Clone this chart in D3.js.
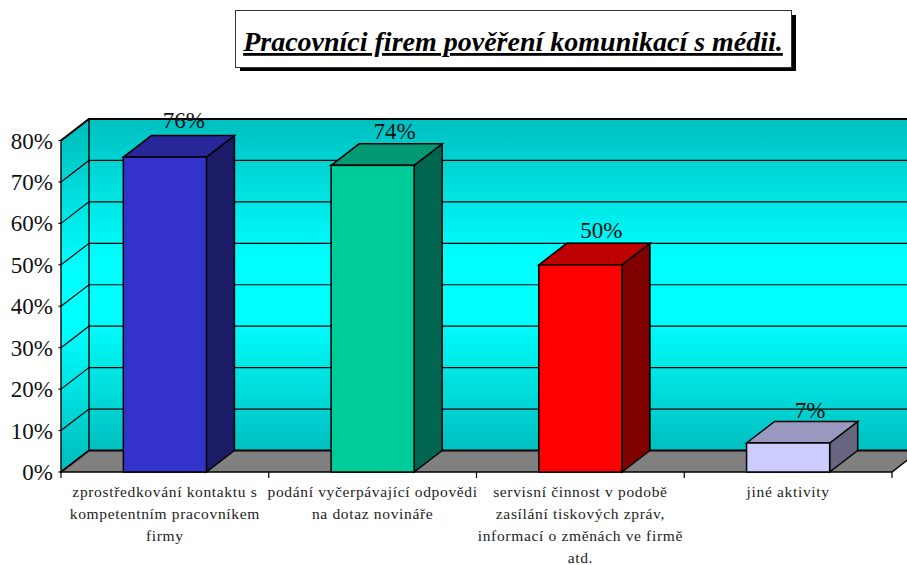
<!DOCTYPE html>
<html><head><meta charset="utf-8">
<script src="https://cdn.jsdelivr.net/npm/d3@7"></script>
<style>html,body{margin:0;padding:0;background:#fff;overflow:hidden}svg{display:block}text{font-family:"Liberation Serif",serif}</style>
</head><body><svg id="c" width="907" height="565"></svg>
<script>
const categories = [
 ["zprostředkování kontaktu s","kompetentním pracovníkem","firmy"],
 ["podání vyčerpávající odpovědi","na dotaz novináře"],
 ["servisní činnost v podobě","zasílání tiskových zpráv,","informací o změnách ve firmě","atd."],
 ["jiné aktivity"]];
const values = [76,74,50,7];
const valueLabels = ["76%","74%","50%","7%"];
const frontColors = ["#3333CC","#00CC99","#FF0000","#CCCCFF"];
const topColors = ["#272799","#009973","#BF0000","#9999BF"];
const sideColors = ["#1C1C66","#006650","#800000","#666680"];
const yTicks = [0,10,20,30,40,50,60,70,80];
const titleText = "Pracovníci firem pověření komunikací s médii.";
const labelShiftX = [19,22,21,22];
const labelShiftY = [-8,-4.5,-5.5,-3.5];

const svg = d3.select("#c");
const dx = 28, dy = -21.5;
const y = d3.scaleLinear().domain([0,80]).range([472,140.5]);
const x = d3.scaleBand().domain(d3.range(categories.length)).range([61,892]).paddingInner(0).paddingOuter(0);
const bw = x.bandwidth()*0.4;
const poly = (pts)=>pts.map(p=>p.join(",")).join(" ");

const defs = svg.append("defs");
function grad(id,y1,y2){
  const g = defs.append("linearGradient").attr("id",id).attr("gradientUnits","userSpaceOnUse")
    .attr("x1",0).attr("x2",0).attr("y1",y1).attr("y2",y2);
  [[0,"#00BFBF"],[0.42,"#00FFFF"],[0.6,"#00FFFF"],[1,"#00BFBF"]].forEach(s=>g.append("stop").attr("offset",s[0]).attr("stop-color",s[1]));
}
grad("wall",y(80)+dy,y(0)+dy);
grad("side",y(80)+dy/2,y(0)+dy/2);

const x0=x.range()[0], x1=x.range()[1];
svg.append("rect").attr("x",x0+dx).attr("y",y(80)+dy).attr("width",x1-x0).attr("height",y(0)-y(80)).attr("fill","url(#wall)");
svg.append("polygon").attr("points",poly([[x0,y(0)],[x0,y(80)],[x0+dx,y(80)+dy],[x0+dx,y(0)+dy]])).attr("fill","url(#side)").attr("stroke","#000").attr("stroke-width",1.4);
svg.append("polygon").attr("points",poly([[x0,y(0)],[x0+dx,y(0)+dy],[x1+dx,y(0)+dy],[x1,y(0)]])).attr("fill","#808080");
yTicks.forEach(t=>{
  svg.append("path").attr("fill","none").attr("stroke","#000").attr("stroke-width",t===0||t===80?1.8:1.2)
    .attr("d",`M${x0},${y(t)}L${x0+dx},${y(t)+dy}L${x1+dx},${y(t)+dy}`);
});
svg.append("path").attr("fill","none").attr("stroke","#000").attr("stroke-width",1.4).attr("d",`M${x0},${y(0)}L${x1},${y(0)}L${x1+dx},${y(0)+dy}`);
d3.range(categories.length+1).forEach(i=>{
  const tx = x0 + i*x.bandwidth();
  svg.append("line").attr("x1",tx).attr("x2",tx).attr("y1",y(0)).attr("y2",y(0)+6).attr("stroke","#000").attr("stroke-width",1.2);
});
yTicks.forEach(t=>{
  svg.append("line").attr("x1",x0-2.5).attr("x2",x0).attr("y1",y(t)).attr("y2",y(t)).attr("stroke","#000").attr("stroke-width",1.2);
  svg.append("text").attr("x",x0-8).attr("y",y(t)+8).attr("text-anchor","end").attr("font-size",23).attr("fill","#111").text(t+"%");
});
values.forEach((v,i)=>{
  const l = x(i)+(x.bandwidth()-bw)/2, r=l+bw, t=y(v), b=y(0);
  const g = svg.append("g").attr("stroke","#000").attr("stroke-width",1.5).attr("stroke-linejoin","miter");
  g.append("polygon").attr("points",poly([[r,b],[r,t],[r+dx,t+dy],[r+dx,b+dy]])).attr("fill",sideColors[i]);
  g.append("polygon").attr("points",poly([[l,t],[l+dx,t+dy],[r+dx,t+dy],[r,t]])).attr("fill",topColors[i]);
  g.append("rect").attr("x",l).attr("y",t).attr("width",bw).attr("height",b-t).attr("fill",frontColors[i]);
  svg.append("text").attr("x",(l+r)/2+labelShiftX[i]).attr("y",t+dy+labelShiftY[i]).attr("text-anchor","middle").attr("font-size",23).attr("fill","#111").text(valueLabels[i]);
  const cx = x(i)+x.bandwidth()/2;
  categories[i].forEach((ln,k)=>{
    svg.append("text").attr("x",cx).attr("y",497+k*22).attr("text-anchor","middle").attr("font-size",15.5).attr("letter-spacing",0.66).attr("fill","#222").text(ln);
  });
});
svg.append("rect").attr("x",240).attr("y",15).attr("width",556).attr("height",56).attr("fill","#000");
svg.append("rect").attr("x",235.5).attr("y",10.5).attr("width",556).attr("height",57).attr("fill","#fff").attr("stroke","#333").attr("stroke-width",1);
svg.append("text").attr("x",513).attr("y",51).attr("text-anchor","middle").attr("font-size",28).attr("font-weight","bold").attr("font-style","italic").attr("text-decoration","underline").attr("fill","#000").text(titleText);
</script></body></html>
